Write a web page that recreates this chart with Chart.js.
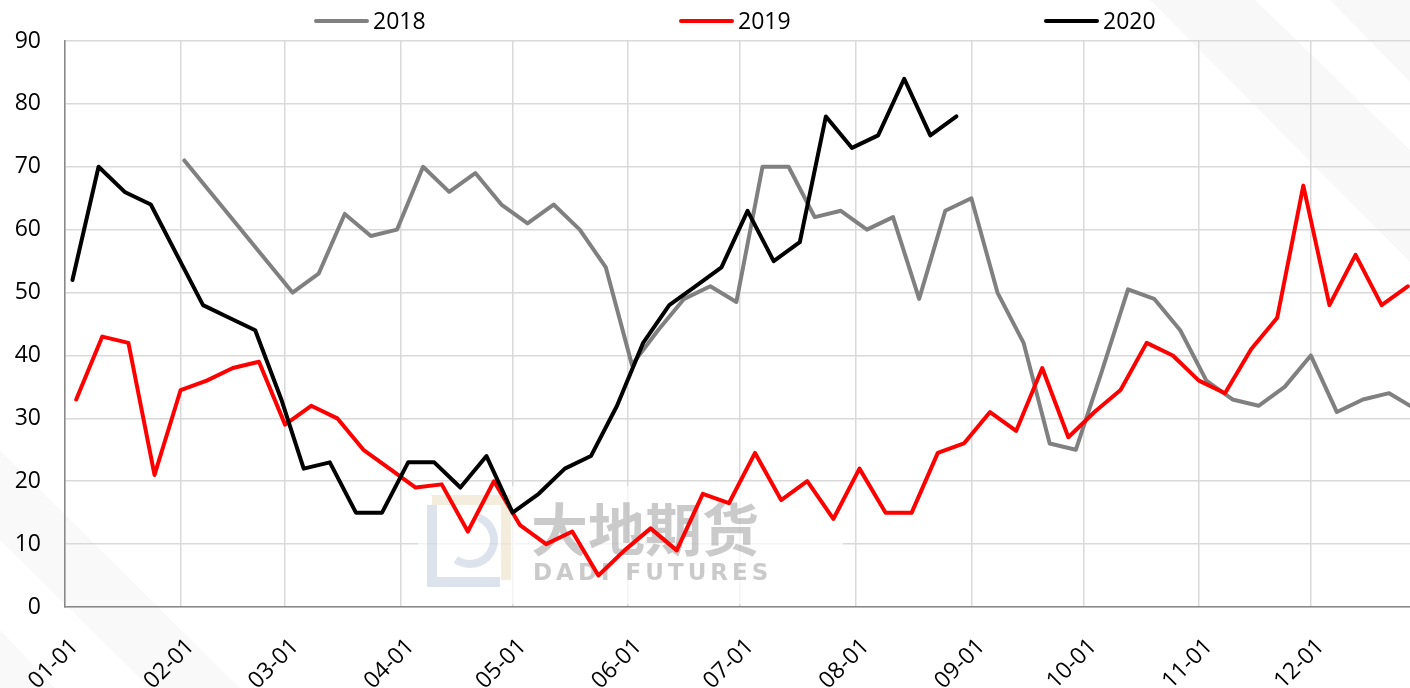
<!DOCTYPE html>
<html>
<head>
<meta charset="utf-8">
<script src="https://cdn.jsdelivr.net/npm/chart.js@4.4.1/dist/chart.umd.min.js"></script>
<style>
  html, body { margin: 0; padding: 0; background: #fff; }
  #wrap { position: relative; width: 1410px; height: 688px; }
</style>
</head>
<body>
<div id="wrap"><canvas id="chart"></canvas></div>
<script>
// month ticks on the x axis
var monthTicks = ["01-01", "02-01", "03-01", "04-01", "05-01", "06-01",
                  "07-01", "08-01", "09-01", "10-01", "11-01", "12-01"];

var yTicks = [0, 10, 20, 30, 40, 50, 60, 70, 80, 90];

var seriesNames = ["2018", "2019", "2020"];
var seriesColors = ["#808080", "#ff0000", "#000000"];

var dates2018 = ["02-02", "03-03", "03-10", "03-17", "03-24", "03-31", "04-07", "04-14", "04-21", "04-28",
                 "05-05", "05-12", "05-19", "05-26", "06-02", "06-09", "06-16", "06-23", "06-30", "07-07",
                 "07-14", "07-21", "07-28", "08-04", "08-11", "08-18", "08-25", "09-01", "09-08", "09-15",
                 "09-22", "09-29", "10-06", "10-13", "10-20", "10-27", "11-03", "11-10", "11-17", "11-24",
                 "12-01", "12-08", "12-15", "12-22", "12-29"];
var values2018 = [71, 50, 53, 62.5, 59, 60, 70, 66, 69, 64,
                  61, 64, 60, 54, 38.5, 44, 49, 51, 48.5, 70,
                  70, 62, 63, 60, 62, 49, 63, 65, 50, 42,
                  26, 25, 37.5, 50.5, 49, 44, 36, 33, 32, 35,
                  40, 31, 33, 34, 31.5];

var dates2019 = ["01-04", "01-11", "01-18", "01-25", "02-01", "02-08", "02-15", "02-22", "03-01", "03-08",
                 "03-15", "03-22", "03-29", "04-05", "04-12", "04-19", "04-26", "05-03", "05-10", "05-17",
                 "05-24", "05-31", "06-07", "06-14", "06-21", "06-28", "07-05", "07-12", "07-19", "07-26",
                 "08-02", "08-09", "08-16", "08-23", "08-30", "09-06", "09-13", "09-20", "09-27", "10-04",
                 "10-11", "10-18", "10-25", "11-01", "11-08", "11-15", "11-22", "11-29", "12-06", "12-13",
                 "12-20", "12-27"];
var values2019 = [33, 43, 42, 21, 34.5, 36, 38, 39, 29, 32,
                  30, 25, 22, 19, 19.5, 12, 20, 13, 10, 12,
                  5, 9, 12.5, 9, 18, 16.5, 24.5, 17, 20, 14,
                  22, 15, 15, 24.5, 26, 31, 28, 38, 27, 31,
                  34.5, 42, 40, 36, 34, 41, 46, 67, 48, 56,
                  48, 51];

var dates2020 = ["01-03", "01-10", "01-17", "01-24", "01-31", "02-07", "02-14", "02-21", "02-28", "03-06",
                 "03-13", "03-20", "03-27", "04-03", "04-10", "04-17", "04-24", "05-01", "05-08", "05-15",
                 "05-22", "05-29", "06-05", "06-12", "06-19", "06-26", "07-03", "07-10", "07-17", "07-24",
                 "07-31", "08-07", "08-14", "08-21", "08-28"];
var values2020 = [52, 70, 66, 64, 56, 48, 46, 44, 33, 22,
                  23, 15, 15, 23, 23, 19, 24, 15, 18, 22,
                  24, 32, 42, 48, 51, 54, 63, 55, 58, 78,
                  73, 75, 84, 75, 78];

var monthStart = [0, 31, 59, 90, 120, 151, 181, 212, 243, 273, 304, 334];

function dayOfYear(mmdd) {
  var p = mmdd.split("-");
  return monthStart[parseInt(p[0], 10) - 1] + parseInt(p[1], 10) - 1;
}

function toPoints(dates, values) {
  return dates.map(function (d, i) {
    return { x: dayOfYear(d), y: values[i] };
  });
}

Chart.defaults.font.family = "'Open Sans', sans-serif";

function fillPoly(ctx, pts, color) {
  ctx.fillStyle = color;
  ctx.beginPath();
  ctx.moveTo(pts[0][0], pts[0][1]);
  for (var i = 1; i < pts.length; i++) ctx.lineTo(pts[i][0], pts[i][1]);
  ctx.closePath();
  ctx.fill();
}

// faint diagonal bands in the background
var backdropPlugin = {
  id: "backdrop",
  beforeDraw: function (chart) {
    var ctx = chart.ctx;
    ctx.save();
    fillPoly(ctx, [[1150, 0], [1255, 0], [1410, 150], [1410, 262]], "#f8f8f8");
    fillPoly(ctx, [[1330, 0], [1410, 0], [1410, 82]], "#f8f8f8");
    fillPoly(ctx, [[0, 450], [0, 540], [150, 688], [240, 688]], "#f9f9f9");
    fillPoly(ctx, [[0, 630], [0, 688], [55, 688]], "#f9f9f9");
    ctx.restore();
  }
};

var legendPlugin = {
  id: "topLegend",
  afterDraw: function (chart) {
    var ctx = chart.ctx;
    ctx.save();
    ctx.font = "23px 'Open Sans'";
    ctx.textBaseline = "middle";
    ctx.textAlign = "left";
    chart.data.datasets.forEach(function (ds, i) {
      var x = 316 + i * 365;
      var y = 21;
      ctx.strokeStyle = ds.borderColor;
      ctx.lineWidth = 4;
      ctx.lineCap = "round";
      ctx.beginPath();
      ctx.moveTo(x, y);
      ctx.lineTo(x + 51, y);
      ctx.stroke();
      ctx.fillStyle = "#000";
      ctx.fillText(ds.label, x + 57, y + 1);
    });
    ctx.restore();
  }
};

var watermarkPlugin = {
  id: "watermark",
  beforeDatasetsDraw: function (chart) {
    var ctx = chart.ctx;
    ctx.save();
    ctx.fillStyle = "rgba(255,255,255,0.7)";
    ctx.fillRect(418, 486, 425, 118);
    ctx.globalAlpha = 0.3;
    // logo
    ctx.lineWidth = 10;
    ctx.strokeStyle = "#d9c48f";
    ctx.beginPath();
    ctx.moveTo(432, 500);
    ctx.lineTo(506, 500);
    ctx.lineTo(506, 580);
    ctx.stroke();
    ctx.strokeStyle = "#8fa3c2";
    ctx.beginPath();
    ctx.moveTo(432, 505);
    ctx.lineTo(432, 582);
    ctx.lineTo(500, 582);
    ctx.stroke();
    ctx.lineWidth = 8;
    ctx.beginPath();
    ctx.arc(470, 540, 24, -1.2, 2.2);
    ctx.stroke();
    ctx.globalAlpha = 0.45;
    ctx.fillStyle = "#8a8a8a";
    ctx.textBaseline = "alphabetic";
    ctx.font = "bold 57px 'Noto Sans CJK SC'";
    ctx.fillText("大地期货", 531, 551);
    ctx.font = "bold 23px 'DejaVu Sans'";
    ctx.letterSpacing = "4px";
    ctx.fillText("DADI FUTURES", 533, 580);
    ctx.restore();
  }
};

var ctx = document.getElementById("chart");

new Chart(ctx, {
  type: "line",
  data: {
    datasets: [
      {
        label: seriesNames[0],
        data: toPoints(dates2018, values2018),
        borderColor: seriesColors[0],
        order: 3
      },
      {
        label: seriesNames[1],
        data: toPoints(dates2019, values2019),
        borderColor: seriesColors[1],
        order: 2
      },
      {
        label: seriesNames[2],
        data: toPoints(dates2020, values2020),
        borderColor: seriesColors[2],
        order: 1
      }
    ]
  },
  options: {
    responsive: true,
    maintainAspectRatio: false,
    animation: false,
    layout: {
      padding: { top: 41, left: 0, right: 0, bottom: 0 }
    },
    elements: {
      line: {
        borderWidth: 4,
        tension: 0,
        fill: false,
        borderJoinStyle: "round",
        borderCapStyle: "round"
      },
      point: { radius: 0 }
    },
    plugins: {
      legend: { display: false },
      tooltip: { enabled: false }
    },
    scales: {
      x: {
        type: "linear",
        min: 0,
        max: 360.6,
        afterBuildTicks: function (axis) {
          axis.ticks = monthTicks.map(function (m) {
            return { value: dayOfYear(m) };
          });
        },
        afterFit: function (axis) {
          axis.paddingLeft = 0;
          axis.paddingRight = 0;
          axis.height = 81;
        },
        ticks: {
          autoSkip: false,
          minRotation: 45,
          maxRotation: 45,
          padding: 26,
          labelOffset: 10,
          color: "#000",
          font: { size: 23 },
          callback: function (value, index) {
            return monthTicks[index];
          }
        },
        grid: {
          color: "#d9d9d9",
          lineWidth: 1.5,
          drawTicks: false
        },
        border: { color: "#888888", width: 1.5 }
      },
      y: {
        type: "linear",
        min: 0,
        max: 90,
        afterBuildTicks: function (axis) {
          axis.ticks = yTicks.map(function (v) {
            return { value: v };
          });
        },
        afterFit: function (axis) {
          axis.width = 65;
        },
        ticks: {
          padding: 24,
          color: "#000",
          font: { size: 23 }
        },
        grid: {
          color: "#d9d9d9",
          lineWidth: 1.5,
          drawTicks: false
        },
        border: { color: "#888888", width: 1.5 }
      }
    }
  },
  plugins: [backdropPlugin, watermarkPlugin, legendPlugin]
});
</script>
</body>
</html>
